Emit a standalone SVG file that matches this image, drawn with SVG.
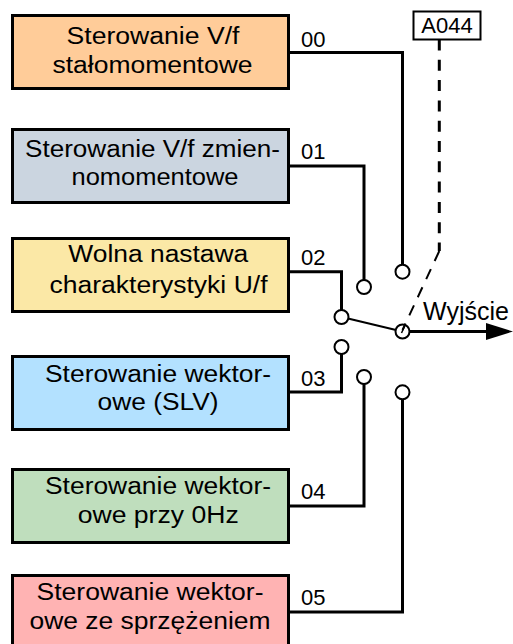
<svg xmlns="http://www.w3.org/2000/svg" width="513" height="644" viewBox="0 0 513 644">
<style>
.box{stroke:#000;stroke-width:3}
.bt{font-family:"Liberation Sans",Arial,sans-serif;font-size:23px;fill:#000;text-anchor:middle}
.lb{font-family:"Liberation Sans",Arial,sans-serif;font-size:22px;fill:#000}
.w{fill:none;stroke:#000;stroke-width:3}
.c{fill:#fff;stroke:#000;stroke-width:2}
</style>
<rect width="513" height="644" fill="#fff"/>
<g id="n00">
<rect class="box" x="12.5" y="15.5" width="276" height="73" fill="#FFCC99"/>
<text class="bt" x="153" y="43.5" textLength="173" lengthAdjust="spacingAndGlyphs">Sterowanie V/f</text>
<text class="bt" x="152.5" y="72.5" textLength="200" lengthAdjust="spacingAndGlyphs">stałomomentowe</text>
</g>
<g id="n01">
<rect class="box" x="12.5" y="129.5" width="276" height="73" fill="#CBD5E0"/>
<text class="bt" x="152.5" y="156.7" textLength="255" lengthAdjust="spacingAndGlyphs">Sterowanie V/f zmien-</text>
<text class="bt" x="155" y="185" textLength="167" lengthAdjust="spacingAndGlyphs">nomomentowe</text>
</g>
<g id="n02">
<rect class="box" x="12.5" y="238.5" width="276" height="73" fill="#FBE8A6"/>
<text class="bt" x="158.3" y="262.3" textLength="180" lengthAdjust="spacingAndGlyphs">Wolna nastawa</text>
<text class="bt" x="158.5" y="292.5" textLength="218" lengthAdjust="spacingAndGlyphs">charakterystyki U/f</text>
</g>
<g id="n03">
<rect class="box" x="12.5" y="356.5" width="276" height="73" fill="#B3E1FF"/>
<text class="bt" x="158" y="381.7" textLength="226" lengthAdjust="spacingAndGlyphs">Sterowanie wektor-</text>
<text class="bt" x="158" y="410" textLength="121" lengthAdjust="spacingAndGlyphs">owe (SLV)</text>
</g>
<g id="n04">
<rect class="box" x="12.5" y="469.5" width="276" height="73" fill="#BFDEBD"/>
<text class="bt" x="158" y="494" textLength="226" lengthAdjust="spacingAndGlyphs">Sterowanie wektor-</text>
<text class="bt" x="158.2" y="522.7" textLength="161" lengthAdjust="spacingAndGlyphs">owe przy 0Hz</text>
</g>
<g id="n05">
<rect class="box" x="12.5" y="575.5" width="276" height="73" fill="#FFB3B3"/>
<text class="bt" x="150" y="600" textLength="227" lengthAdjust="spacingAndGlyphs">Sterowanie wektor-</text>
<text class="bt" x="150" y="629.3" textLength="241" lengthAdjust="spacingAndGlyphs">owe ze sprzężeniem</text>
</g>
<g id="a044">
<rect x="413.5" y="11.5" width="67" height="28" fill="#fff" stroke="#000" stroke-width="2"/>
<text class="lb" x="447" y="32.5" text-anchor="middle">A044</text>
</g>
<g id="connectors">
<text class="lb" x="301" y="46.5">00</text>
<text class="lb" x="301" y="158.5">01</text>
<text class="lb" x="301" y="264.5">02</text>
<text class="lb" x="301" y="385.7">03</text>
<text class="lb" x="301" y="499">04</text>
<text class="lb" x="301" y="605">05</text>
<path class="w" d="M289 52.5H402.5V265"/>
<path class="w" d="M289 166H364V280"/>
<path class="w" d="M289 271.7H341.5V310"/>
<path class="w" d="M289 392H341.5V354"/>
<path class="w" d="M289 506H364V384"/>
<path class="w" d="M289 612H402.5V399"/>
<path d="M439.3 39.5V251" fill="none" stroke="#000" stroke-width="3" stroke-dasharray="11 9.3"/>
<path d="M439.3 251L402.5 330" fill="none" stroke="#000" stroke-width="2" stroke-dasharray="11 9"/>
<path d="M348 318.5L396 330" fill="none" stroke="#000" stroke-width="2"/>
<path class="w" d="M409 331.5H488"/>
<path d="M486 323L513 331.5L486 340Z" fill="#000"/>
<circle class="c" cx="402.5" cy="271.7" r="7"/>
<circle class="c" cx="364" cy="287" r="7"/>
<circle class="c" cx="341.5" cy="317" r="7"/>
<circle class="c" cx="341.5" cy="347" r="7"/>
<circle class="c" cx="364" cy="377" r="7"/>
<circle class="c" cx="402.5" cy="392.3" r="7"/>
<circle cx="402.5" cy="331.5" r="7" fill="none" stroke="#000" stroke-width="2"/>
<path d="M404.5 326.5L401.5 333" stroke="#000" stroke-width="1.5"/>
<text x="423" y="320" font-family="'Liberation Sans',Arial,sans-serif" font-size="25px" fill="#000">Wyjście</text>
</g>
</svg>
